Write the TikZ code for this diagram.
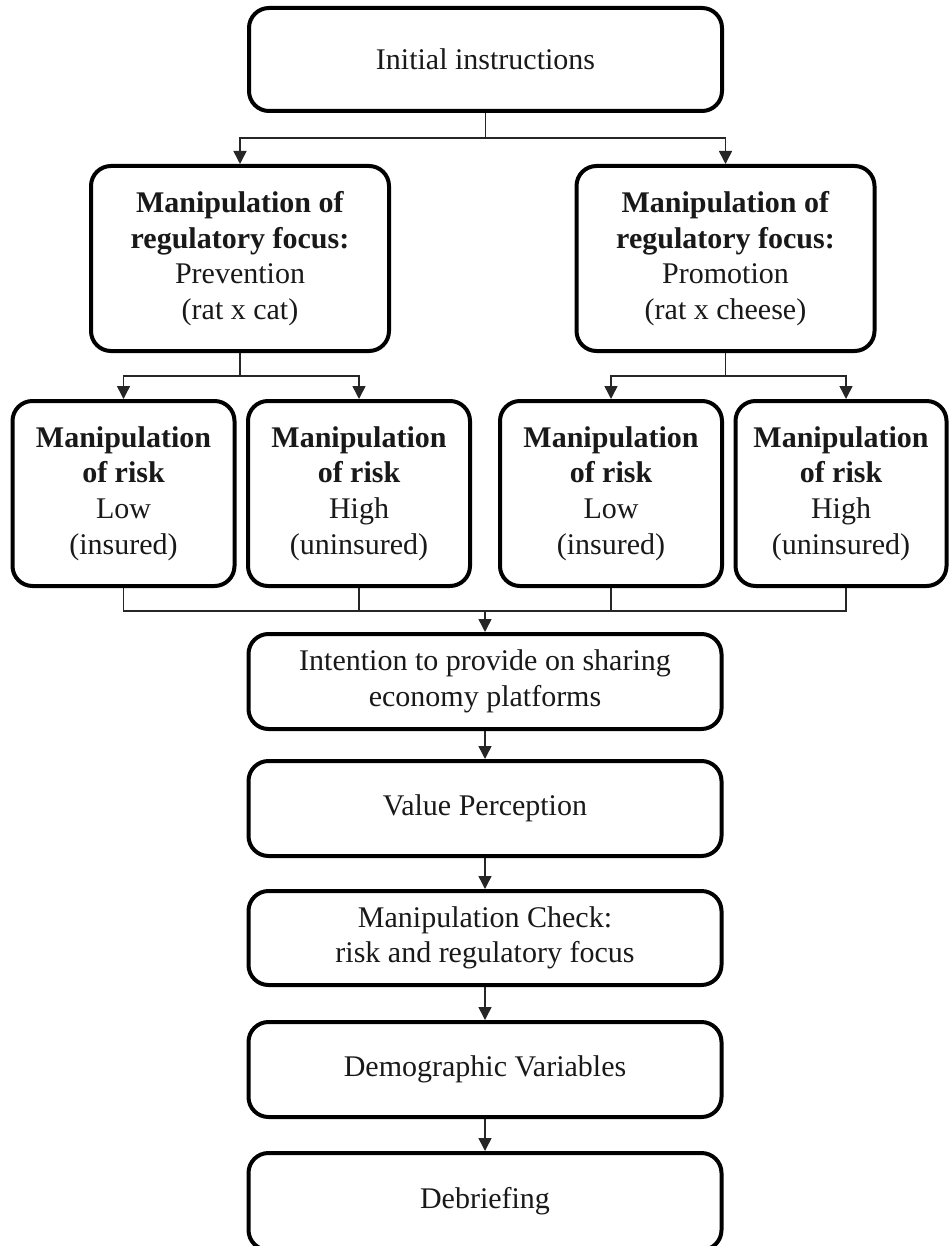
\documentclass[tikz,border=0pt]{standalone}
\usepackage{fontspec}
\setmainfont{Liberation Serif}
\usetikzlibrary{arrows.meta}
\begin{document}
\begin{tikzpicture}[x=0.5pt,y=-0.5pt,
  box/.style={draw=black, line width=2pt, rounded corners=10pt, fill=white,
    align=center, inner sep=2pt, text=black!90,
    font=\fontsize{15pt}{17.8pt}\selectfont},
  wide/.style={box, minimum width=236.5pt, minimum height=47.5pt},
  focus/.style={box, minimum width=149pt, minimum height=92.5pt},
  risk/.style={box, minimum width=111pt, minimum height=92.5pt},
  link/.style={draw=black!85, line width=0.75pt},
  flow/.style={link, -{Triangle[width=6.5pt,length=6.5pt]}}
]
\useasboundingbox (0,0) rectangle (948,1246);

% stages of the procedure
\node[wide, minimum height=51.5pt] (init) at (485.5,59.5) {Initial instructions};
\node[focus] (prev) at (240,258.5) {\textbf{Manipulation of}\\\textbf{regulatory focus:}\\Prevention\\(rat x cat)};
\node[focus] (prom) at (725.5,258.5) {\textbf{Manipulation of}\\\textbf{regulatory focus:}\\Promotion\\(rat x cheese)};

\node[risk] (r1) at (123.5,493.5) {\textbf{Manipulation}\\\textbf{of risk}\\Low\\(insured)};
\node[risk] (r2) at (359,493.5) {\textbf{Manipulation}\\\textbf{of risk}\\High\\(uninsured)};
\node[risk] (r3) at (611,493.5) {\textbf{Manipulation}\\\textbf{of risk}\\Low\\(insured)};
\node[risk, minimum width=105.5pt] (r4) at (841,493.5) {\textbf{Manipulation}\\\textbf{of risk}\\High\\(uninsured)};

\node[wide] (intent) at (485,681.5) {Intention to provide on sharing\\economy platforms};
\node[wide] (value) at (485,808.5) {Value Perception};
\node[wide, minimum height=47pt] (check) at (485,938) {Manipulation Check:\\risk and regulatory focus};
\node[wide] (demo) at (485,1069.5) {Demographic Variables};
\node[wide, minimum height=48.5pt] (debrief) at (485,1201.5) {Debriefing};

% branching points
\coordinate (j1) at (485.5,138);
\coordinate (j2) at (240,376);
\coordinate (j3) at (725.5,376);
\coordinate (j4) at (485,611);

% split into the two focus conditions
\draw[link] (init.south) -- (j1);
\draw[flow] (j1) -| (prev.north);
\draw[flow] (j1) -| (prom.north);

% split into the risk conditions
\draw[link] (prev.south) -- (j2);
\draw[flow] (j2) -| (r1.north);
\draw[flow] (j2) -| (r2.north);
\draw[link] (prom.south) -- (j3);
\draw[flow] (j3) -| (r3.north);
\draw[flow] (j3) -| ([xshift=2.5pt]r4.north);

% merge back into the common sequence
\draw[link] (r1.south) |- (j4);
\draw[link] (r2.south) |- (j4);
\draw[link] (r3.south) |- (j4);
\draw[link] ([xshift=2.5pt]r4.south) |- (j4);
\draw[flow] (j4) -- (intent.north);

\draw[flow] (intent) -- (value);
\draw[flow] (value) -- (check);
\draw[flow] (check) -- (demo);
\draw[flow] (demo) -- (debrief);
\end{tikzpicture}
\end{document}
